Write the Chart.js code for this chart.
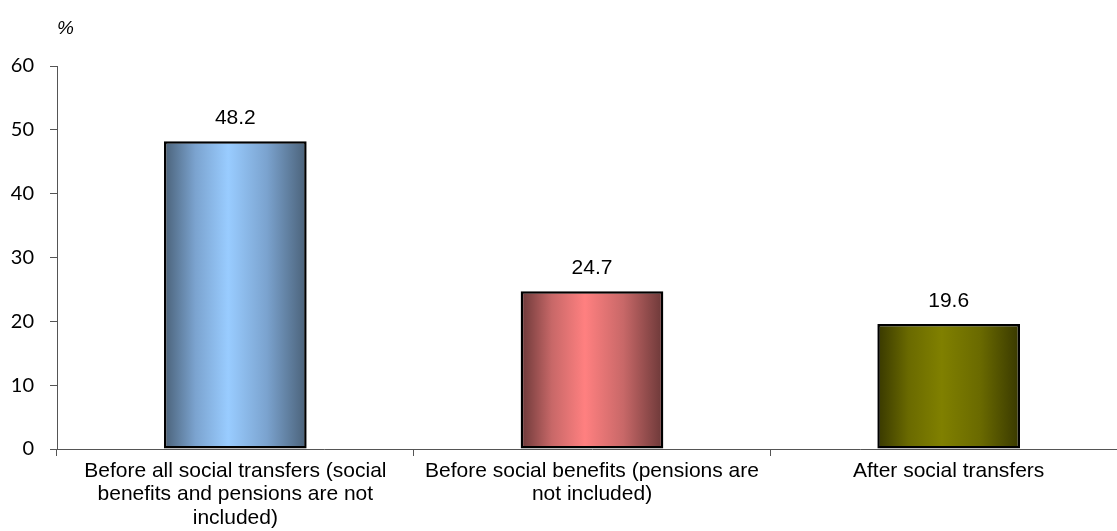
<!DOCTYPE html>
<html>
<head>
<meta charset="utf-8">
<script src="https://cdn.jsdelivr.net/npm/chart.js@4"></script>
<style>
  html, body { margin: 0; padding: 0; background: #fff; overflow: hidden; }
  #wrap { width: 1130px; height: 531px; }
</style>
</head>
<body>
<div id="wrap"><canvas id="chart"></canvas></div>
<script>
// data
const categories = [
  ["Before all social transfers (social", "benefits and pensions are not", "included)"],
  ["Before social benefits (pensions are", "not included)"],
  ["After social transfers"]
];
const values = [48.2, 24.7, 19.6];
const yTicks = [0, 10, 20, 30, 40, 50, 60];

// colours per bar: edge, mid, light
const barShades = [
  ["#4a6178", "#7ba3cf", "#99ccff"],
  ["#6b3838", "#c86868", "#ff8080"],
  ["#383800", "#6a6a00", "#808000"]
];

function barFill(c) {
  const chart = c.chart;
  const i = c.dataIndex;
  const s = barShades[i];
  if (!chart.chartArea) return s[2];
  const xs = chart.scales.x;
  const cx = xs.getPixelForValue(i);
  const w = (xs.width / categories.length) * 0.4;
  const g = chart.ctx.createLinearGradient(cx - w / 2, 0, cx + w / 2, 0);
  g.addColorStop(0, s[0]);
  g.addColorStop(0.22, s[1]);
  g.addColorStop(0.45, s[2]);
  g.addColorStop(0.72, s[1]);
  g.addColorStop(1, s[0]);
  return g;
}

// values above bars + "%" mark
const labelsPlugin = {
  id: "labels",
  afterDatasetsDraw(chart) {
    const ctx = chart.ctx;
    const meta = chart.getDatasetMeta(0);
    ctx.save();
    ctx.fillStyle = "#000";
    ctx.font = "21px 'Liberation Sans', Arial, sans-serif";
    ctx.textAlign = "center";
    ctx.textBaseline = "alphabetic";
    meta.data.forEach((bar, i) => {
      ctx.fillText(values[i].toFixed(1), bar.x, bar.y - 17);
    });
    ctx.font = "italic 19px 'Liberation Sans', Arial, sans-serif";
    ctx.textAlign = "left";
    ctx.fillText("%", 57, 34);
    ctx.restore();
  }
};

new Chart(document.getElementById("chart"), {
  type: "bar",
  data: {
    labels: categories,
    datasets: [{
      data: values,
      backgroundColor: barFill,
      borderColor: "#000",
      borderWidth: 2.5,
      borderSkipped: false,
      barPercentage: 0.4,
      categoryPercentage: 1
    }]
  },
  options: {
    responsive: true,
    maintainAspectRatio: false,
    animation: false,
    layout: { padding: { top: 66, right: 3, left: 0, bottom: 0 } },
    plugins: {
      legend: { display: false },
      tooltip: { enabled: false }
    },
    scales: {
      x: {
        grid: {
          offset: true,
          drawOnChartArea: false,
          tickLength: 7,
          color: "#555"
        },
        border: { color: "#555", width: 1 },
        ticks: {
          color: "#000",
          padding: 4,
          maxRotation: 0,
          autoSkip: false,
          font: { family: "'Liberation Sans', Arial, sans-serif", size: 21, lineHeight: 1.1 }
        },
        afterFit(scale) { scale.height = 82; }
      },
      y: {
        min: 0,
        max: 60,
        afterBuildTicks(scale) { scale.ticks = yTicks.map(v => ({ value: v })); },
        grid: {
          drawOnChartArea: false,
          tickLength: 7,
          color: "#555"
        },
        border: { color: "#555", width: 1 },
        ticks: {
          color: "#000",
          padding: 16,
          font: { family: "Lato, 'Open Sans', sans-serif", size: 20 }
        },
        afterFit(scale) { scale.width = 57; }
      }
    }
  },
  plugins: [labelsPlugin]
});
</script>
</body>
</html>
